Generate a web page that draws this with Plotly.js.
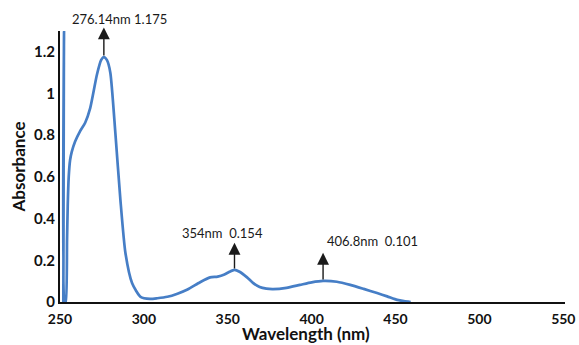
<!DOCTYPE html>
<html>
<head>
<meta charset="utf-8">
<script src="https://cdn.plot.ly/plotly-3.0.1.min.js"></script>
<style>html,body{margin:0;padding:0;background:#fff;}#chart{width:579px;height:345px;}</style>
</head>
<body>
<div id="chart"></div>
<script>
// Absorption spectrum
const wavelength = [252.0, 252.4, 252.8, 253.4, 254.2, 254.6, 255.2, 256.0, 257.0, 259.0, 262.0, 265.0, 268.0, 272.0, 274.5, 276.14, 278.0, 280.0, 283.0, 286.0, 289.0, 293.0, 298.0, 303.7, 308.0, 314.0, 320.0, 326.0, 333.5, 339.5, 344.0, 348.0, 351.0, 354.0, 357.0, 361.5, 365.0, 369.0, 373.0, 377.0, 385.0, 393.0, 400.0, 406.8, 415.0, 423.0, 431.0, 439.0, 445.0, 451.0, 455.0, 459.0];
const absorbance = [0.0, 1.3, 0.0, 0.0, 0.3, 0.46, 0.6, 0.68, 0.72, 0.77, 0.82, 0.86, 0.93, 1.09, 1.16, 1.175, 1.16, 1.10, 0.81, 0.49, 0.235, 0.09, 0.025, 0.015, 0.018, 0.025, 0.04, 0.06, 0.095, 0.118, 0.122, 0.132, 0.145, 0.154, 0.145, 0.118, 0.092, 0.072, 0.064, 0.062, 0.068, 0.082, 0.094, 0.101, 0.097, 0.082, 0.063, 0.043, 0.027, 0.01, 0.004, 0.0];

const peakWl = [276.14, 354, 406.8];
const peakAbs = [1.175, 0.154, 0.101];
const peakLabels = ["276.14nm 1.175", "354nm  0.154", "406.8nm  0.101"];

const xTicks = [250, 300, 350, 400, 450, 500, 550];
const yTicks = [0, 0.2, 0.4, 0.6, 0.8, 1, 1.2];
const xTitle = "Wavelength (nm)";
const yTitle = "Absorbance";

const font = "Lato, 'Open Sans', sans-serif";

const arrowTop = [1.317, 0.284, 0.236];
const labelX = [285.2, 346.6, 436];
const labelY = [1.044, 0.332, 0.293];
const labelYRef = ["paper", "y", "y"];

const annotations = [];
for (let i = 0; i < peakWl.length; i++) {
  annotations.push({
    x: peakWl[i], y: arrowTop[i], xref: "x", yref: "y",
    ax: peakWl[i], ay: peakAbs[i], axref: "x", ayref: "y",
    text: "", showarrow: true, arrowhead: 2, arrowsize: 1.7, arrowwidth: 1.4,
    arrowcolor: "#1a1a1a", standoff: 0, startstandoff: 0
  });
  annotations.push({
    x: labelX[i], y: labelY[i], xref: "x", yref: labelYRef[i],
    text: peakLabels[i], showarrow: false, xanchor: "center", yanchor: "middle",
    font: {family: font, size: 13, color: "#1a1a1a"}
  });
}
// x-axis title as a paper annotation, low under the tick labels
annotations.push({
  x: 0.487, y: -0.1587, xref: "paper", yref: "paper",
  text: "<b>" + xTitle + "</b>", showarrow: false, xanchor: "center", yanchor: "bottom",
  font: {family: font, size: 17, color: "#111"}, borderpad: 0
});

const trace = {
  x: wavelength, y: absorbance, type: "scatter", mode: "lines",
  line: {color: "rgb(70,126,198)", width: 2.7, shape: "spline", smoothing: 0.6},
  hoverinfo: "skip"
};

const layout = {
  width: 579, height: 345,
  margin: {l: 60, r: 14, t: 31, b: 43},
  paper_bgcolor: "#fff", plot_bgcolor: "#fff",
  showlegend: false,
  xaxis: {
    range: [250, 551], tickvals: xTicks, ticktext: xTicks.map(String),
    showgrid: false, zeroline: false, showline: true, linecolor: "#111", linewidth: 2,
    ticks: "", ticklabelstandoff: 3, tickfont: {family: font, size: 14, color: "#111", weight: "bold"}
  },
  yaxis: {
    range: [0, 1.3], tickvals: yTicks, ticktext: yTicks.map(String),
    showgrid: false, zeroline: false, showline: true, linecolor: "#111", linewidth: 2,
    ticks: "", tickfont: {family: font, size: 15, color: "#111", weight: "bold"},
    title: {text: "<b>" + yTitle + "</b>", font: {family: font, size: 17, color: "#111"}, standoff: 4}
  },
  annotations: annotations
};

Plotly.newPlot("chart", [trace], layout, {staticPlot: true, displayModeBar: false});
</script>
</body>
</html>
